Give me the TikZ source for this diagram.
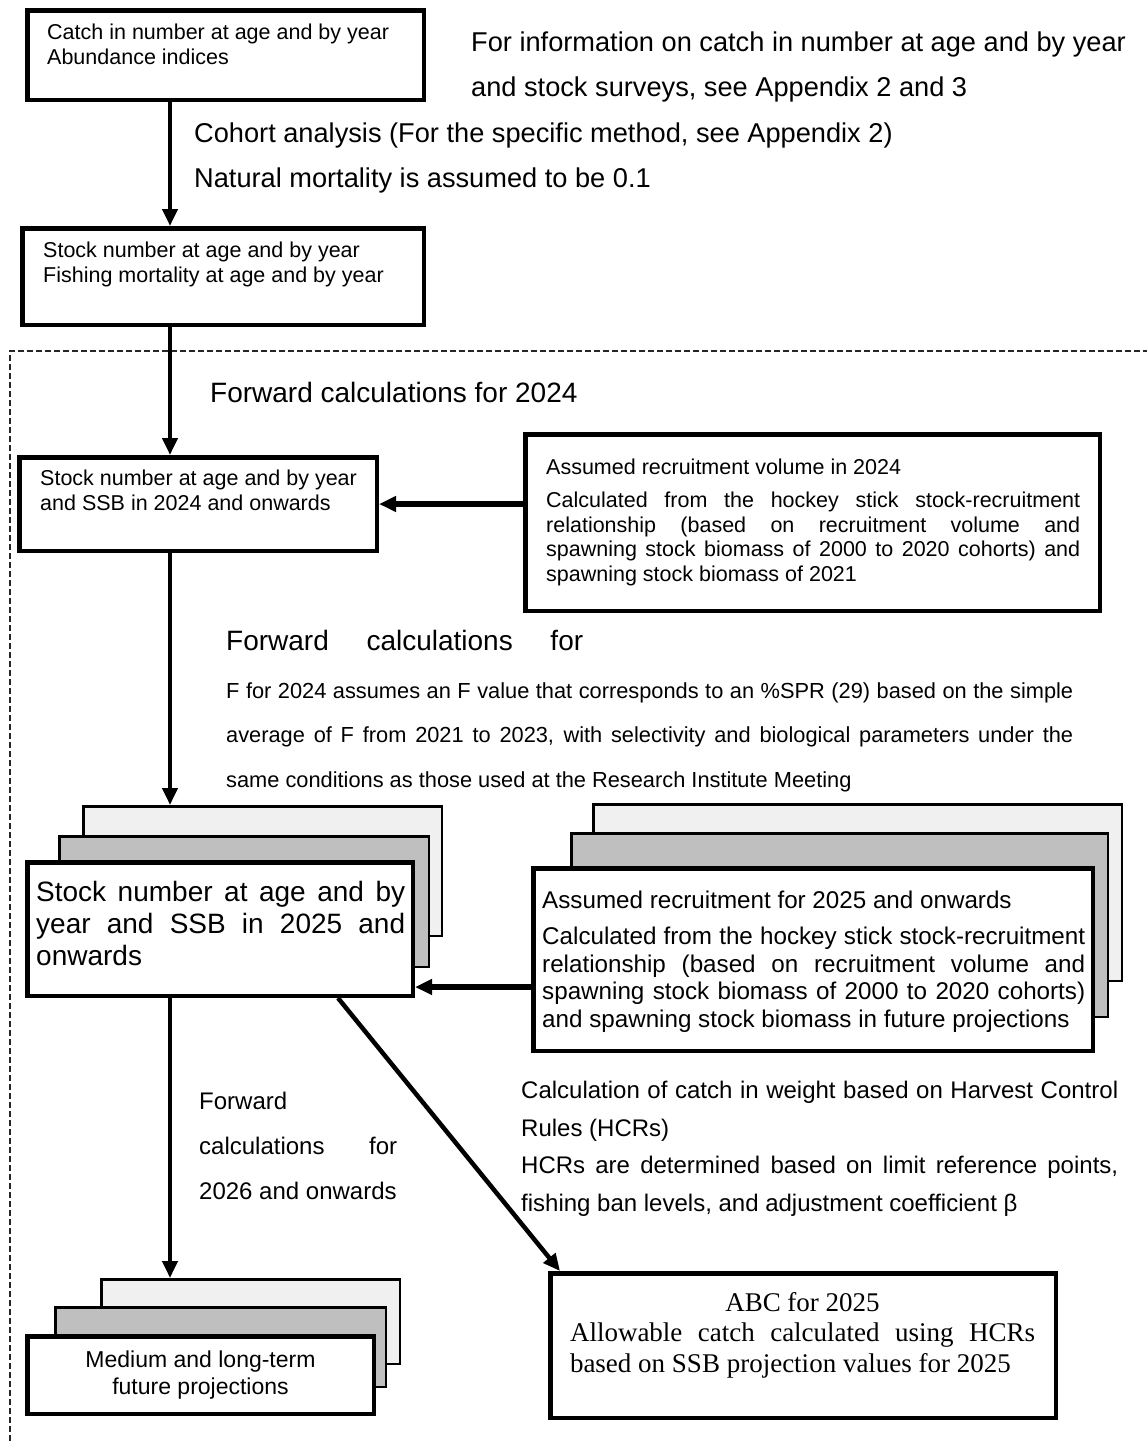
\documentclass[tikz,border=0pt]{standalone}
\usepackage{fontspec}
\setmainfont{Liberation Sans}
\newfontfamily\abcfont{Liberation Serif}
\usetikzlibrary{arrows.meta}
\newcommand\jline[2]{\makebox[#1][s]{#2}}

\begin{document}
\begin{tikzpicture}[x=1pt,y=-1pt,
  box/.style={draw,line width=4.5pt,fill=white,anchor=north west,inner sep=0pt},
  backbox/.style={draw,line width=2.5pt,fill=black!6,anchor=north west,inner sep=0pt},
  midbox/.style={draw,line width=2.5pt,fill=black!25,anchor=north west,inner sep=0pt},
  txt/.style={anchor=north west,inner sep=0pt,align=left},
  boxtxt/.style={txt,font=\fontsize{21.5pt}{24.5pt}\selectfont},
  bigtxt/.style={txt,font=\fontsize{27.2pt}{44.5pt}\selectfont},
  arr/.style={line width=4.5pt,-{Triangle[width=15pt,length=17pt]}}]

\useasboundingbox (0,0) rectangle (1147,1441);
\coordinate (spine) at (170,0);

% Frame of the forward calculations
\draw[line width=1.6pt,black!85,dash pattern=on 6pt off 3pt] (10,1450) |- (1160,351);

% Input data and cohort analysis
\node[box,minimum width=396.5pt,minimum height=89.5pt] (catch) at (25,8) {};
\node[boxtxt] (catchtxt) at (47,24) {Catch in number at age and by year\\Abundance indices};
\node[bigtxt] (info) at (471,32) {For information on catch in number at age and by year\\and stock surveys, see Appendix 2 and 3};
\node[bigtxt] (cohort) at (194,123) {Cohort analysis (For the specific method, see Appendix 2)\\Natural mortality is assumed to be 0.1};
\node[box,minimum width=401.5pt,minimum height=96.5pt] (stockF) at (20,226) {};
\node[boxtxt] (stockFtxt) at (43,242) {Stock number at age and by year\\Fishing mortality at age and by year};

% Forward calculations for 2024
\node[txt,font=\fontsize{28pt}{32pt}\selectfont] (fwd24) at (210,382) {Forward calculations for 2024};
\node[box,minimum width=357.5pt,minimum height=93.5pt] (ssb24) at (17,455) {};
\node[boxtxt] (ssb24txt) at (40,470) {Stock number at age and by year\\and SSB in 2024 and onwards};
\node[box,minimum width=574.5pt,minimum height=176.5pt] (rec24) at (523,432) {};
\node[boxtxt] (rec24txt) at (546,459) {Assumed recruitment volume in 2024\\[8.5pt]
  \jline{534pt}{Calculated from the hockey stick stock-recruitment}\\
  \jline{534pt}{relationship (based on recruitment volume and}\\
  \jline{534pt}{spawning stock biomass of 2000 to 2020 cohorts) and}\\
  spawning stock biomass of 2021};

% Forward calculations for 2025
\node[txt,font=\fontsize{28pt}{32pt}\selectfont] (fwd25) at (226,630) {\jline{357pt}{Forward calculations for}};
\node[txt,font=\fontsize{21.8pt}{44.5pt}\selectfont] (fspr) at (226,682) {%
  \jline{847pt}{F for 2024 assumes an F value that corresponds to an \%SPR (29) based on the simple}\\
  \jline{847pt}{average of F from 2021 to 2023, with selectivity and biological parameters under the}\\
  same conditions as those used at the Research Institute Meeting};

\node[backbox,minimum width=358.5pt,minimum height=129.5pt] (ssb25c) at (82,805) {};
\node[midbox,minimum width=369.5pt,minimum height=130.5pt] (ssb25b) at (58,835) {};
\node[box,minimum width=385.5pt,minimum height=133.5pt] (ssb25) at (25,860) {};
\node[txt,font=\fontsize{28pt}{32pt}\selectfont] (ssb25txt) at (36,881) {%
  \jline{369pt}{Stock number at age and by}\\
  \jline{369pt}{year and SSB in 2025 and}\\
  onwards};

\node[backbox,minimum width=528.5pt,minimum height=176.5pt] (rec25c) at (592,803) {};
\node[midbox,minimum width=536.5pt,minimum height=183.5pt] (rec25b) at (570,832) {};
\node[box,minimum width=559.5pt,minimum height=182.5pt] (rec25) at (531,866) {};
\node[txt,font=\fontsize{24.2pt}{27.7pt}\selectfont] (rec25txt) at (542,891) {%
  Assumed recruitment for 2025 and onwards\\[8pt]
  \jline{543pt}{Calculated from the hockey stick stock-recruitment}\\
  \jline{543pt}{relationship (based on recruitment volume and}\\
  \jline{543pt}{spawning stock biomass of 2000 to 2020 cohorts)}\\
  and spawning stock biomass in future projections};

% Projections and ABC
\node[txt,font=\fontsize{24pt}{45pt}\selectfont] (fwd26) at (199,1092) {Forward\\
  \jline{198pt}{calculations for}\\
  2026 and onwards};
\node[txt,font=\fontsize{24pt}{37.5pt}\selectfont] (hcr) at (521,1081) {%
  \jline{597pt}{Calculation of catch in weight based on Harvest Control}\\
  Rules (HCRs)\\
  \jline{597pt}{HCRs are determined based on limit reference points,}\\
  fishing ban levels, and adjustment coefficient β};

\node[backbox,minimum width=298.5pt,minimum height=84.5pt] (projc) at (100,1278) {};
\node[midbox,minimum width=330.5pt,minimum height=79.5pt] (projb) at (54,1306) {};
\node[box,minimum width=346.5pt,minimum height=77.5pt] (proj) at (25,1334) {};
\node[align=center,inner sep=0pt,font=\fontsize{23pt}{27pt}\selectfont] (projtxt) at (proj.center) {Medium and long-term\\future projections};

\node[box,minimum width=505.5pt,minimum height=144.5pt] (abc) at (548,1271) {};
\node[anchor=north,inner sep=0pt,align=center,font=\abcfont\fontsize{27pt}{30.5pt}\selectfont] (abctxt) at (802.5,1292) {%
  ABC for 2025\\
  \jline{465pt}{Allowable catch calculated using HCRs}\\
  \makebox[465pt][l]{based on SSB projection values for 2025}};

% Connections
\draw[arr] (catch.south -| spine) -- (stockF.north -| spine);
\draw[arr] (stockF.south -| spine) -- (ssb24.north -| spine);
\draw[arr,line width=5.5pt] (rec24.west |- ssb24.east) -- (ssb24.east);
\draw[arr] (ssb24.south -| spine) -- (ssb25c.north -| spine);
\coordinate (r25in) at ([yshift=-27.5pt]rec25.west);
\draw[arr,line width=5.5pt] (r25in) -- (r25in -| ssb25.east);
\draw[arr] (ssb25.south -| spine) -- (projc.north -| spine);
\draw[arr] ([xshift=-77pt]ssb25.south east) -- ([xshift=12pt]abc.north west);

\end{tikzpicture}
\end{document}
